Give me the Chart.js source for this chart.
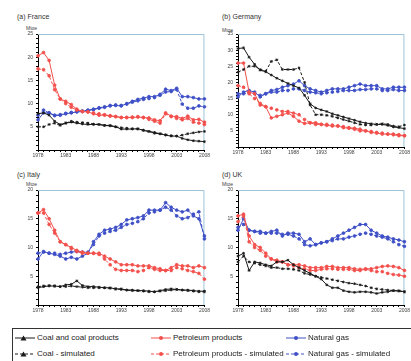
<!DOCTYPE html>
<html>
<head>
<meta charset="UTF-8">
<title>Energy consumption by fuel</title>
<script src="https://cdn.jsdelivr.net/npm/chart.js"></script>
<style>
  body { margin: 0; width: 411px; height: 361px; background: #fff; position: relative; overflow: hidden;
         font-family: "Liberation Sans", Arial, sans-serif; }
  .panel { position: absolute; }
  .ttl { position: absolute; font-size: 7px; color: #333; }
  .unit { position: absolute; font-size: 5px; color: #444; }
  #legend { position: absolute; left: 12px; top: 328px; width: 420px; height: 40px; border: 1px solid #333; }
  .lg { position: absolute; font-size: 8px; color: #222; white-space: nowrap; line-height: 9px; }
  .lg svg { vertical-align: middle; margin-right: 2px; }
</style>
</head>
<body>
<div class="ttl" style="left:17px;top:13px">(a) France</div>
<div class="unit" style="left:26px;top:25px">Mtoe</div>
<div class="ttl" style="left:222px;top:13px">(b) Germany</div>
<div class="unit" style="left:222px;top:27px">Mtoe</div>
<div class="ttl" style="left:17px;top:171px">(c) Italy</div>
<div class="unit" style="left:26px;top:181px">Mtoe</div>
<div class="ttl" style="left:222px;top:171px">(d) UK</div>
<div class="unit" style="left:222px;top:181px">Mtoe</div>

<canvas id="fr" class="panel" style="left:0;top:28px"></canvas>
<canvas id="de" class="panel" style="left:200px;top:28px"></canvas>
<canvas id="it" class="panel" style="left:0;top:184px"></canvas>
<canvas id="uk" class="panel" style="left:200px;top:184px"></canvas>

<div id="legend"></div>

<script>
// years on the x axis
const years = ['1978','1979','1980','1981','1982','1983','1984','1985','1986','1987','1988',
  '1989','1990','1991','1992','1993','1994','1995','1996','1997','1998','1999','2000',
  '2001','2002','2003','2004','2005','2006','2007','2008'];

// (a) France
const frCoal     = [7.8,8.0,7.5,6.2,5.5,5.8,6.0,5.8,5.6,5.5,5.5,5.5,5.3,5.3,5.0,4.5,4.5,4.5,4.6,4.2,4.0,3.6,3.5,3.2,3.0,3.0,2.5,2.2,2.0,1.9,1.8];
const frCoalSim  = [5.0,5.0,5.5,5.8,5.3,5.8,6.2,6.0,5.9,5.8,5.6,5.5,5.3,5.2,5.0,4.8,4.7,4.6,4.5,4.3,4.0,3.8,3.5,3.3,3.1,3.0,3.2,3.5,3.7,3.9,4.0];
const frPetrol   = [20.3,21.0,19.3,14.0,11.0,10.5,9.8,8.8,8.3,8.2,7.8,7.5,7.5,7.3,7.2,7.0,7.0,7.0,7.1,7.0,6.9,6.5,6.3,8.0,7.3,7.2,6.8,7.3,6.5,6.6,6.0];
const frPetrolSim= [17.5,17.3,16.0,13.0,11.0,10.0,9.2,8.6,8.3,8.2,8.0,7.8,7.6,7.4,7.2,7.0,7.0,7.1,7.2,7.0,6.6,6.2,5.8,7.8,7.2,6.8,6.5,6.8,6.0,5.8,5.5];
const frGas      = [6.5,8.0,8.0,7.4,7.5,7.8,8.0,8.2,8.3,8.5,8.7,9.0,9.2,9.6,9.6,9.5,10.0,10.5,10.9,11.2,11.5,11.5,12.0,13.1,12.8,13.3,11.5,11.5,11.3,11.0,11.0];
const frGasSim   = [7.5,8.6,8.0,7.5,7.6,7.9,8.1,8.3,8.4,8.6,8.8,9.1,9.3,9.5,9.7,9.6,9.9,10.3,10.6,10.9,11.1,11.3,11.8,12.5,12.6,13.0,9.9,9.0,9.0,9.5,9.3];

// (b) Germany
const deCoal     = [30.5,30.7,27.8,25.6,23.8,23.3,22.3,21.3,20.5,19.7,19.0,18.3,16.0,13.4,12.1,11.5,11.0,10.3,9.8,9.3,8.8,8.3,7.8,7.4,7.2,7.0,7.0,6.7,6.2,6.0,5.7];
const deCoalSim  = [23.2,24.0,25.0,25.0,24.0,23.5,26.5,27.0,24.0,24.0,24.0,24.5,20.0,13.0,10.0,10.0,9.8,9.5,9.0,8.5,8.0,7.5,7.0,6.8,6.8,7.0,7.2,7.0,6.5,6.3,6.8];
const dePetrol   = [26.0,26.0,17.0,16.5,13.0,12.5,9.0,9.5,10.0,10.5,9.5,8.0,7.3,7.5,7.5,7.0,6.7,6.5,6.5,6.0,5.8,5.5,5.0,5.0,4.5,4.3,4.0,4.0,3.8,3.5,3.5];
const dePetrolSim= [19.0,18.5,16.5,15.0,13.5,12.5,12.0,11.5,11.0,11.0,10.5,10.0,8.5,7.5,7.0,7.0,7.0,6.8,6.5,6.3,6.0,5.8,5.5,5.0,4.8,4.5,4.3,4.0,4.0,3.8,3.5];
const deGas      = [15.5,17.0,17.5,17.0,15.5,16.5,17.5,17.8,18.5,19.0,19.5,20.5,19.0,18.0,17.5,17.0,17.5,18.0,18.0,18.0,18.5,19.0,19.5,19.0,19.0,19.0,18.0,18.0,18.5,18.5,18.5];
const deGasSim   = [16.5,16.5,16.8,16.5,16.0,16.5,17.0,17.0,17.5,17.5,18.0,18.0,17.5,17.0,16.8,16.5,16.8,17.0,17.2,17.5,17.5,17.5,17.8,17.8,18.0,18.0,17.5,17.5,17.8,17.5,17.5];

// (c) Italy
const itCoal     = [3.0,3.2,3.3,3.3,3.2,3.5,3.6,4.2,3.4,3.2,3.2,3.1,3.0,3.0,2.8,2.8,2.6,2.6,2.5,2.5,2.4,2.3,2.5,2.7,2.8,2.7,2.6,2.6,2.5,2.4,2.4];
const itCoalSim  = [3.2,3.3,3.4,3.3,3.2,3.2,3.3,3.2,3.1,3.0,3.0,3.0,3.0,2.9,2.8,2.7,2.6,2.5,2.5,2.4,2.3,2.3,2.4,2.5,2.6,2.7,2.6,2.5,2.4,2.3,2.3];
const itPetrol   = [16.0,16.6,15.0,13.0,11.0,10.5,10.0,9.5,9.2,9.0,9.0,9.0,8.5,8.0,7.5,7.0,7.0,7.0,6.8,6.8,6.8,6.5,6.3,6.0,6.5,7.0,6.8,6.8,6.5,6.8,6.5];
const itPetrolSim= [16.0,16.0,14.0,12.5,11.0,10.5,9.8,9.3,9.0,9.0,9.0,8.8,8.0,7.0,6.2,6.0,6.0,6.0,5.8,6.0,6.5,6.2,6.0,6.0,6.0,6.5,6.3,6.0,5.8,5.5,4.5];
const itGas      = [8.0,9.3,9.0,8.8,8.5,8.0,8.3,8.0,8.5,9.0,11.0,12.3,13.0,13.2,13.5,14.0,14.8,15.0,15.2,15.5,16.5,16.5,16.5,17.8,17.0,16.5,16.2,16.5,15.5,15.0,12.0];
const itGasSim   = [9.0,9.2,9.0,9.0,8.8,9.0,9.2,9.3,9.2,9.2,10.5,12.0,12.5,12.8,13.0,13.5,14.0,14.2,14.5,15.0,16.0,16.2,16.5,17.0,16.5,15.5,15.0,15.2,15.8,16.2,11.5];

// (d) UK
const ukCoal     = [8.5,9.0,6.0,7.5,7.3,7.0,6.8,7.5,7.5,7.8,7.0,6.5,6.0,5.5,5.0,4.5,3.5,3.0,3.0,2.5,2.3,2.2,2.3,2.3,2.2,2.0,2.2,2.3,2.5,2.5,2.3];
const ukCoalSim  = [7.5,8.5,7.5,7.3,7.0,6.8,6.5,6.5,6.3,6.3,6.2,6.0,5.5,5.3,5.0,4.8,4.6,4.4,4.2,4.0,3.8,3.7,3.5,3.3,3.0,2.8,2.7,2.6,2.5,2.4,2.3];
const ukPetrol   = [15.5,15.8,12.0,10.5,10.0,9.0,8.0,7.5,7.5,7.0,7.0,7.0,6.8,6.5,6.5,6.5,6.7,6.7,6.5,6.5,6.5,6.3,6.2,6.3,6.3,6.5,6.7,6.8,6.7,6.5,6.0];
const ukPetrolSim= [14.5,15.5,11.0,10.0,9.5,8.5,8.0,7.8,7.5,7.0,6.8,6.5,6.3,6.0,6.0,6.2,6.3,6.3,6.2,6.2,6.2,6.0,6.0,6.2,6.0,5.8,5.8,5.5,5.3,5.2,5.0];
const ukGas      = [13.0,15.0,13.0,12.8,12.8,12.5,12.8,13.0,12.0,12.5,12.5,12.3,11.0,11.5,10.5,10.8,11.0,11.5,12.0,12.5,13.0,13.5,14.0,14.0,13.0,12.5,12.0,11.8,11.5,11.3,11.0];
const ukGasSim   = [13.5,14.0,13.0,12.8,12.5,12.5,12.5,12.5,12.3,12.3,12.0,11.5,10.5,10.3,10.5,10.8,11.0,11.2,11.5,11.5,11.8,12.0,12.3,12.5,12.3,12.0,11.8,11.5,11.0,10.5,10.2];

const seriesNames = ['Coal and coal products', 'Coal - simulated', 'Petroleum products',
  'Petroleum products  - simulated', 'Natural gas', 'Natural gas  - simulated'];

const COAL = '#1a1a1a', PETROL = '#f2504c', GAS = '#3f50c6';
const styles = [
  { color: COAL,   dash: [],     point: 'star' },
  { color: COAL,   dash: [3, 2], point: 'star' },
  { color: PETROL, dash: [],     point: 'circle' },
  { color: PETROL, dash: [3, 2], point: 'circle' },
  { color: GAS,    dash: [],     point: 'circle' },
  { color: GAS,    dash: [3, 2], point: 'circle' }
];

// light blue frame on top and right of the plot area
const frame = {
  id: 'frame',
  beforeDatasetsDraw(c) {
    const a = c.chartArea, ctx = c.ctx;
    ctx.save();
    ctx.strokeStyle = '#9cc4d8';
    ctx.lineWidth = 1;
    ctx.beginPath();
    ctx.moveTo(a.left, a.top + 0.5);
    ctx.lineTo(a.right - 0.5, a.top + 0.5);
    ctx.lineTo(a.right - 0.5, a.bottom);
    ctx.stroke();
    ctx.restore();
  }
};

function makeChart(id, w, h, padRight, yMax, data) {
  const cv = document.getElementById(id);
  cv.width = w; cv.height = h;
  return new Chart(cv, {
    type: 'line',
    data: {
      labels: years,
      datasets: data.map((vals, i) => ({
        label: seriesNames[i],
        data: vals,
        borderColor: styles[i].color,
        backgroundColor: styles[i].color,
        borderDash: styles[i].dash,
        borderWidth: 1,
        pointStyle: styles[i].point,
        pointRadius: 1.4,
        pointBorderWidth: 0.8,
        tension: 0
      }))
    },
    options: {
      responsive: false,
      animation: false,
      events: [],
      clip: false,
      layout: { padding: { left: 0, right: padRight, top: 5, bottom: 0 } },
      plugins: { legend: { display: false }, tooltip: { enabled: false } },
      scales: {
        x: {
          offset: false,
          border: { display: true, color: '#000', width: 1 },
          grid: { drawOnChartArea: false, drawTicks: true, tickLength: 2, color: '#000' },
          ticks: {
            autoSkip: false, maxRotation: 0, padding: 1,
            font: { size: 5, family: 'Liberation Sans' }, color: '#444',
            callback: (v, i) => (i % 5 === 0 ? years[i] : '')
          },
          afterFit: s => { s.height = 12; }
        },
        y: {
          min: 0, max: yMax,
          border: { display: true, color: '#000', width: 1 },
          grid: { drawOnChartArea: false, drawTicks: true, tickLength: 2, color: '#000' },
          ticks: {
            stepSize: 1, autoSkip: false, padding: 3,
            font: { size: 5, family: 'Liberation Sans' }, color: '#444',
            callback: v => (v % 5 === 0 && v > 0 ? v : '')
          },
          afterFit: s => { s.width = 38; }
        }
      }
    },
    plugins: [frame]
  });
}

makeChart('fr', 211, 134, 6, 25, [frCoal, frCoalSim, frPetrol, frPetrolSim, frGas, frGasSim]);
makeChart('de', 211, 131, 4, 35, [deCoal, deCoalSim, dePetrol, dePetrolSim, deGas, deGasSim]);
makeChart('it', 211, 133, 6, 20, [itCoal, itCoalSim, itPetrol, itPetrolSim, itGas, itGasSim]);
makeChart('uk', 211, 133, 6, 20, [ukCoal, ukCoalSim, ukPetrol, ukPetrolSim, ukGas, ukGasSim]);

// legend below the panels
const legendPos = [[2, 4], [2, 20], [138, 4], [138, 20], [273, 4], [273, 20]];
const legend = document.getElementById('legend');
seriesNames.forEach((name, i) => {
  const s = styles[i];
  const dash = s.dash.length ? 'stroke-dasharray="3,2"' : '';
  const mark = s.point === 'star'
    ? `<path d="M8.5 1.5 L11.5 6.5 L5.5 6.5 Z" fill="${s.color}"/>`
    : `<circle cx="10" cy="4" r="2" fill="${s.color}"/>`;
  const el = document.createElement('div');
  el.className = 'lg';
  el.style.left = legendPos[i][0] + 'px';
  el.style.top = legendPos[i][1] + 'px';
  el.innerHTML = `<svg width="20" height="8"><line x1="0" y1="4" x2="20" y2="4" stroke="${s.color}" stroke-width="1" ${dash}/>${mark}</svg>${name}`;
  legend.appendChild(el);
});
</script>
</body>
</html>
